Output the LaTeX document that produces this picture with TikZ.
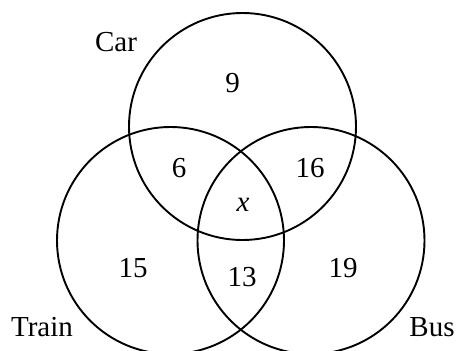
\documentclass[tikz,border=0pt]{standalone}
\usepackage{fontspec}
\setmainfont{Liberation Serif}
\begin{document}
\begin{tikzpicture}[x=1pt,y=-1pt,
  vset/.style={draw, circle, line width=1.9pt, minimum size=227pt, inner sep=0pt},
  lbl/.style={font=\fontsize{29}{34}\selectfont, inner sep=0pt}]
\useasboundingbox (0,0) rectangle (456,351);
\clip (0,0) rectangle (456,351);
\node[vset] (car) at (242.5,126.5) {};
\node[vset] (train) at (170.5,240.5) {};
\node[vset] (bus) at (311,240.5) {};
\node[lbl] (lcar) at (116,42) {Car};
\node[lbl] (ltrain) at (42,327) {Train};
\node[lbl] (lbus) at (432,327) {Bus};
\node[lbl] (n9) at (232.7,83) {9};
\node[lbl] (n6) at (179,168) {6};
\node[lbl] (n16) at (310,168) {16};
\node[lbl] (nx) at (243,205) {\textit{x}};
\node[lbl] (n15) at (133,268) {15};
\node[lbl] (n13) at (242,277) {13};
\node[lbl] (n19) at (343,268) {19};
\end{tikzpicture}
\end{document}
